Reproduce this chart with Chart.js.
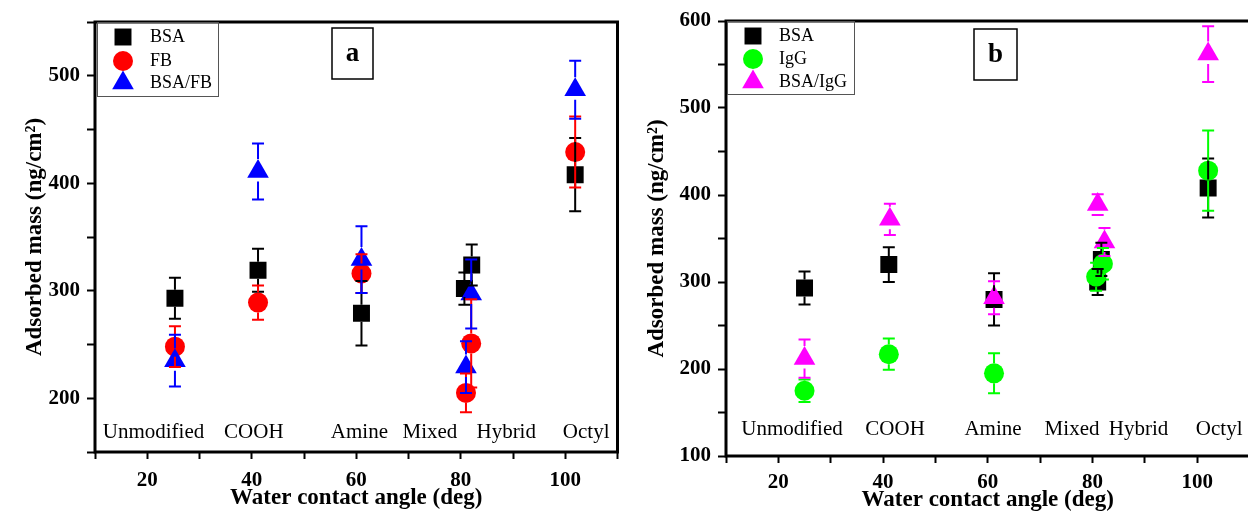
<!DOCTYPE html>
<html>
<head>
<meta charset="utf-8">
<script src="https://cdn.jsdelivr.net/npm/chart.js@4.4.0/dist/chart.umd.min.js"></script>
<style>
  html, body { margin: 0; padding: 0; background: #fff; overflow: hidden; width: 1248px; height: 514px; }
  .panel { position: absolute; top: 0; }
</style>
</head>
<body>
<div class="panel" style="left:0px"><canvas id="chartA" width="630" height="514"></canvas></div>
<div class="panel" style="left:630px"><canvas id="chartB" width="632" height="514"></canvas></div>
<script>
// Categorías (superficies) y marcas de los ejes
var grupos = ["Unmodified", "COOH", "Amine", "Mixed", "Hybrid", "Octyl"];
var ticksX = [20, 40, 60, 80, 100];
var ticksYA = [200, 300, 400, 500];
var ticksYB = [100, 200, 300, 400, 500, 600];

// Panel a: BSA, FB y BSA/FB (ángulo de contacto, masa adsorbida, error)
var anguloBsaA = [25.3, 41.2, 61.0, 80.7, 82.1, 101.9];
var masaBsaA = [293, 319, 279, 302, 324, 408];
var errBsaA = [19, 20, 30, 15, 19, 34];

var anguloFbA = [25.3, 41.2, 61.0, 81.0, 82.0, 101.9];
var masaFbA = [248, 289, 316, 205, 251, 429];
var errFbA = [19, 16, 18, 18, 41, 33];

var anguloMixA = [25.3, 41.2, 61.0, 81.0, 82.0, 101.9];
var masaMixA = [235, 411, 329, 229, 297, 487];
var errMixA = [24, 26, 31, 24, 32, 27];

// Panel b: BSA, IgG y BSA/IgG
var anguloBsaB = [25.0, 41.1, 61.2, 81.0, 81.7, 102.1];
var masaBsaB = [293, 320, 280, 300, 326, 408];
var errBsaB = [19, 20, 30, 15, 19, 34];

var anguloIggB = [25.0, 41.1, 61.2, 80.7, 82.0, 102.1];
var masaIggB = [175, 217, 195, 306, 321, 428];
var errIggB = [13, 18, 23, 16, 18, 46];

var anguloMixB = [25.0, 41.3, 61.2, 81.0, 82.3, 102.1];
var masaMixB = [212, 372, 282, 389, 346, 562];
var errMixB = [22, 18, 19, 12, 16, 32];

Chart.defaults.font.family = "'Liberation Serif', 'Times New Roman', serif";
Chart.defaults.color = "#000";

// Convierte dos arreglos en puntos {x, y}
function puntos(xs, ys) {
  return xs.map(function (x, i) {
    return { x: x, y: ys[i] };
  });
}

// Estilos de marcador (tipo Origin)
function serie(nombre, xs, ys, errs, color, forma, orden) {
  var radio = forma === "rect" ? 12 : forma === "circle" ? 10 : 12.5;
  return {
    label: nombre,
    data: puntos(xs, ys),
    errores: errs,
    pointStyle: forma,
    pointRadius: radio,
    backgroundColor: color,
    borderColor: color,
    borderWidth: 0,
    showLine: false,
    order: orden,
    huecoArriba: forma === "rect" ? 8.5 : forma === "circle" ? 10 : 12.5,
    huecoAbajo: forma === "rect" ? 8.5 : forma === "circle" ? 10 : 10,
  };
}

// Barras de error dibujadas sobre los puntos
var pluginErrores = {
  id: "errores",
  afterDatasetsDraw: function (chart) {
    var ctx = chart.ctx;
    var escalaY = chart.scales.y;
    chart.data.datasets.forEach(function (ds, i) {
      var meta = chart.getDatasetMeta(i);
      ctx.save();
      ctx.strokeStyle = ds.borderColor;
      ctx.lineWidth = 2;
      meta.data.forEach(function (p, j) {
        var v = ds.data[j].y;
        var e = ds.errores[j];
        var yArr = escalaY.getPixelForValue(v + e);
        var yAb = escalaY.getPixelForValue(v - e);
        ctx.beginPath();
        if (yArr < p.y - ds.huecoArriba) {
          ctx.moveTo(p.x, yArr);
          ctx.lineTo(p.x, p.y - ds.huecoArriba);
        }
        if (yAb > p.y + ds.huecoAbajo) {
          ctx.moveTo(p.x, p.y + ds.huecoAbajo);
          ctx.lineTo(p.x, yAb);
        }
        ctx.moveTo(p.x - 6, yArr);
        ctx.lineTo(p.x + 6, yArr);
        ctx.moveTo(p.x - 6, yAb);
        ctx.lineTo(p.x + 6, yAb);
        ctx.stroke();
      });
      ctx.restore();
    });
  },
};

// Marco negro alrededor del área de datos
var pluginMarco = {
  id: "marco",
  afterDraw: function (chart) {
    var a = chart.chartArea;
    var ctx = chart.ctx;
    ctx.save();
    ctx.strokeStyle = "#000";
    ctx.lineWidth = 3;
    ctx.strokeRect(a.left, a.top, a.right - a.left, a.bottom - a.top);
    ctx.restore();
  },
};

// Leyenda con recuadro en la esquina superior izquierda
var pluginLeyenda = {
  id: "leyendaCaja",
  afterDraw: function (chart, args, op) {
    var ctx = chart.ctx;
    var a = chart.chartArea;
    var x0 = a.left + op.dx;
    var y0 = a.top;
    ctx.save();
    ctx.strokeStyle = "#555";
    ctx.lineWidth = 1;
    ctx.strokeRect(x0 + 0.5, y0 + 0.5, op.ancho, op.alto);
    ctx.font = "18px 'Liberation Serif', 'Times New Roman', serif";
    ctx.textBaseline = "middle";
    ctx.textAlign = "left";
    chart.data.datasets.forEach(function (ds, i) {
      var y = y0 + op.filas[i];
      ctx.fillStyle = ds.backgroundColor;
      Chart.helpers.drawPoint(ctx, { pointStyle: ds.pointStyle, radius: ds.pointRadius, rotation: 0, borderWidth: 0 }, a.left + op.marcaX, y);
      ctx.fillStyle = "#000";
      ctx.fillText(ds.label, a.left + op.textoX, y);
    });
    ctx.restore();
  },
};

// Nombres de las superficies dentro del gráfico
var pluginGrupos = {
  id: "grupos",
  afterDatasetsDraw: function (chart, args, op) {
    var ctx = chart.ctx;
    ctx.save();
    ctx.font = "21px 'Liberation Serif', 'Times New Roman', serif";
    ctx.fillStyle = "#000";
    ctx.textAlign = "center";
    ctx.textBaseline = "middle";
    grupos.forEach(function (g, i) {
      ctx.fillText(g, chart.scales.x.getPixelForValue(op.posX[i]), chart.scales.y.getPixelForValue(op.posY));
    });
    ctx.restore();
  },
};

// Letra del panel en un recuadro
var pluginLetra = {
  id: "letra",
  afterDraw: function (chart, args, op) {
    var ctx = chart.ctx;
    var a = chart.chartArea;
    var x = a.left + op.dx;
    var y = a.top + op.dy;
    ctx.save();
    ctx.fillStyle = "#fff";
    ctx.fillRect(x, y, op.ancho, op.alto);
    ctx.strokeStyle = "#000";
    ctx.lineWidth = 1.5;
    ctx.strokeRect(x, y, op.ancho, op.alto);
    ctx.fillStyle = "#000";
    ctx.font = "bold 27px 'Liberation Serif', 'Times New Roman', serif";
    ctx.textAlign = "center";
    ctx.textBaseline = "middle";
    ctx.fillText(op.texto, x + op.ancho / 2, y + op.alto / 2 + 1);
    ctx.restore();
  },
};

function crearGrafico(id, series, cfg) {
  var ctx = document.getElementById(id).getContext("2d");
  return new Chart(ctx, {
    type: "scatter",
    data: { datasets: series },
    options: {
      responsive: false,
      animation: false,
      events: [],
      layout: { padding: { left: 0, right: 9, top: cfg.arriba, bottom: 0 } },
      plugins: {
        legend: { display: false },
        tooltip: { enabled: false },
        leyendaCaja: cfg.leyenda,
        grupos: cfg.grupos,
        letra: cfg.letra,
      },
      scales: {
        x: {
          type: "linear",
          min: 10,
          max: 110,
          afterFit: function (s) {
            s.height = cfg.altoX;
          },
          ticks: {
            stepSize: 10,
            autoSkip: false,
            maxRotation: 0,
            padding: cfg.padTickX,
            color: "#000",
            font: { size: 21, weight: "bold" },
            callback: function (v) {
              return ticksX.indexOf(v) >= 0 ? String(v) : "";
            },
          },
          grid: { drawOnChartArea: false, tickLength: 7, tickWidth: 2, color: "#000" },
          border: { display: false },
          title: {
            display: true,
            text: "Water contact angle (deg)",
            color: "#000",
            font: { size: 23, weight: "bold" },
            padding: { top: 0, bottom: cfg.padTituloX },
          },
        },
        y: {
          type: "linear",
          min: cfg.minY,
          max: cfg.maxY,
          afterFit: function (s) {
            s.width = cfg.anchoY;
          },
          ticks: {
            stepSize: 50,
            autoSkip: false,
            padding: 7,
            color: "#000",
            font: { size: 21, weight: "bold" },
            callback: function (v) {
              return cfg.ticksY.indexOf(v) >= 0 ? String(v) : "";
            },
          },
          grid: { drawOnChartArea: false, tickLength: 8, tickWidth: 2, color: "#000" },
          border: { display: false },
          title: {
            display: true,
            text: "Adsorbed mass (ng/cm²)",
            color: "#000",
            font: { size: 23, weight: "bold" },
            padding: { top: cfg.padTituloY, bottom: 0 },
          },
        },
      },
    },
    plugins: [pluginErrores, pluginMarco, pluginGrupos, pluginLeyenda, pluginLetra],
  });
}

// Panel a
crearGrafico(
  "chartA",
  [
    serie("BSA", anguloBsaA, masaBsaA, errBsaA, "#000000", "rect", 3),
    serie("FB", anguloFbA, masaFbA, errFbA, "#ff0000", "circle", 2),
    serie("BSA/FB", anguloMixA, masaMixA, errMixA, "#0000ff", "triangle", 1),
  ],
  {
    arriba: 22,
    altoX: 62,
    anchoY: 95,
    minY: 150,
    maxY: 550,
    ticksY: ticksYA,
    padTickX: 9,
    padTituloX: 2,
    padTituloY: 21,
    leyenda: { dx: 2, ancho: 121, alto: 74, marcaX: 28, textoX: 55, filas: [15, 39, 61] },
    grupos: { posX: [21.2, 40.4, 60.6, 74.1, 88.7, 104.0], posY: 168 },
    letra: { texto: "a", dx: 237, dy: 6, ancho: 41, alto: 51 },
  }
);

// Panel b
crearGrafico(
  "chartB",
  [
    serie("BSA", anguloBsaB, masaBsaB, errBsaB, "#000000", "rect", 3),
    serie("IgG", anguloIggB, masaIggB, errIggB, "#00ff00", "circle", 2),
    serie("BSA/IgG", anguloMixB, masaMixB, errMixB, "#ff00ff", "triangle", 1),
  ],
  {
    arriba: 21,
    altoX: 58,
    anchoY: 96,
    minY: 100,
    maxY: 600,
    ticksY: ticksYB,
    padTickX: 7,
    padTituloX: 0,
    padTituloY: 13,
    leyenda: { dx: 1, ancho: 127, alto: 73, marcaX: 27, textoX: 53, filas: [15, 38, 61] },
    grupos: { posX: [22.6, 42.3, 61.0, 76.1, 88.8, 104.2], posY: 130 },
    letra: { texto: "b", dx: 248, dy: 8, ancho: 43, alto: 51 },
  }
);
</script>
</body>
</html>
